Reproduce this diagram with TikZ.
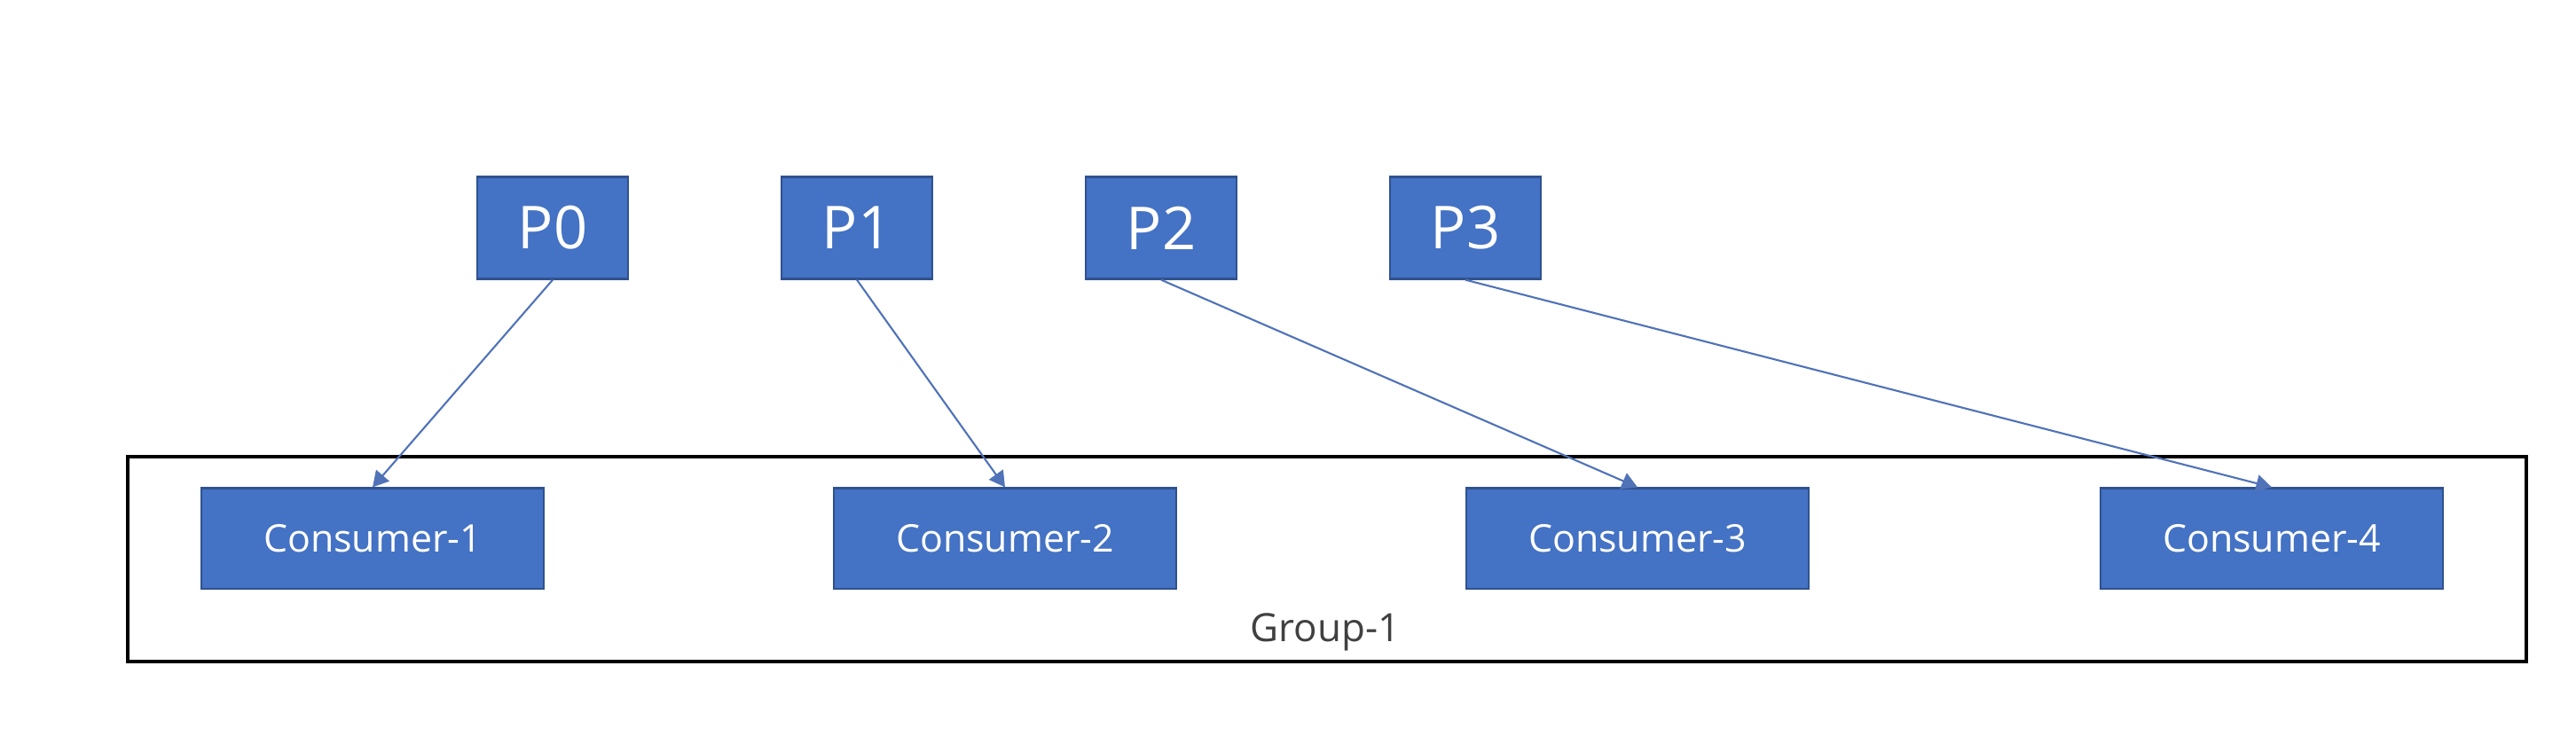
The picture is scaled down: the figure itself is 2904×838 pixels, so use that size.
\documentclass[tikz,border=0pt]{standalone}
\usepackage{fontspec}
\setmainfont{Open Sans}
\usetikzlibrary{arrows.meta}
\definecolor{boxfill}{HTML}{4472C4}
\definecolor{boxline}{HTML}{2F528F}
\definecolor{arrowcol}{HTML}{5073B8}
\definecolor{labelgray}{HTML}{404040}
\tikzset{
  pbox/.style={draw=boxline, line width=0.6pt, fill=boxfill, text=white,
    minimum width=1.70cm, minimum height=1.15cm, inner sep=0pt,
    font=\fontsize{19}{22}\selectfont},
  cbox/.style={draw=boxline, line width=0.6pt, fill=boxfill, text=white,
    minimum width=3.85cm, minimum height=1.13cm, inner sep=0pt,
    font=\fontsize{12.2}{14}\selectfont},
  link/.style={draw=arrowcol, line width=0.6pt, -{Triangle[length=5pt,width=5.5pt]}},
  groupbox/.style={draw=black, line width=0.9pt}
}
\begin{document}
\begin{tikzpicture}[x=0.01cm,y=-0.01cm]
\useasboundingbox[fill=white] (0,0) rectangle (2904,838);
\draw[groupbox] (144,515) rectangle (2848,746);
\node[anchor=base, text=labelgray, font=\fontsize{12.5}{15}\selectfont] (glabel) at (1494,723) {Group-1};
\node[pbox] (p0) at (623,257) {P0};
\node[pbox] (p1) at (966,257) {P1};
\node[pbox] (p2) at (1309,257) {P2};
\node[pbox] (p3) at (1652,257) {P3};
\node[cbox] (c1) at (420,607) {Consumer-1};
\node[cbox] (c2) at (1133,607) {Consumer-2};
\node[cbox] (c3) at (1846,607) {Consumer-3};
\node[cbox] (c4) at (2561,607) {Consumer-4};
\draw[link] (p0.south) -- (c1.north);
\draw[link] (p1.south) -- (c2.north);
\draw[link] (p2.south) -- (c3.north);
\draw[link] (p3.south) -- (c4.north);
\end{tikzpicture}
\end{document}
